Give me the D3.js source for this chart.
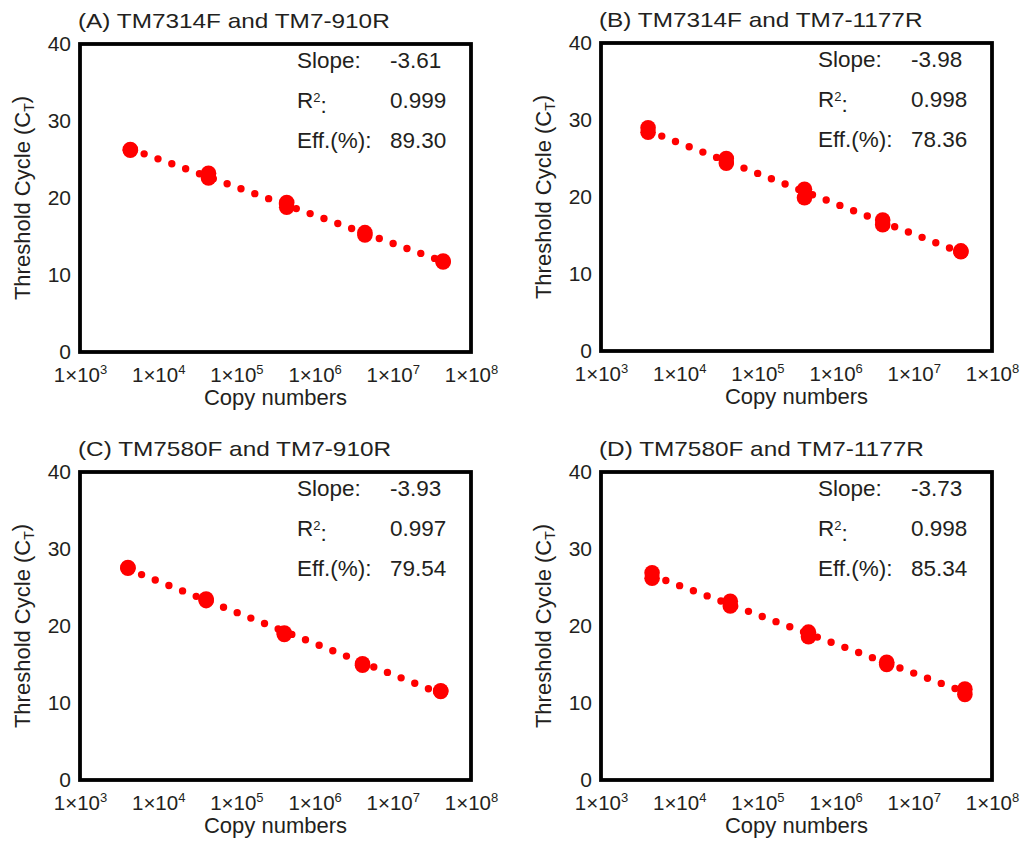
<!doctype html>
<html lang="en-US">
<head>
  <meta charset="utf-8">
  <title>qPCR standard curves</title>
  <script src="https://cdn.jsdelivr.net/npm/d3@7/dist/d3.min.js"></script>
  <style>
    html, body {
      margin: 0px;
      padding: 0px;
      background: #fff;
    }
    svg {
      display: block;
    }
    text {
      font-family: "Liberation Sans", Arial, sans-serif;
      fill: #231f20;
    }
  </style>
</head>
<body>
<svg id="chart" width="1024" height="841"></svg>

<script>
// panel titles and fit statistics printed in each box
var titles = ["(A) TM7314F and TM7-910R", "(B) TM7314F and TM7-1177R",
              "(C) TM7580F and TM7-910R", "(D) TM7580F and TM7-1177R"];
var slopes = ["-3.61", "-3.98", "-3.93", "-3.73"];
var r2s = ["0.999", "0.998", "0.997", "0.998"];
var effs = ["89.30", "78.36", "79.54", "85.34"];

// copy numbers of the dilution series
var copiesA = [4.4e3, 4.4e4, 4.4e5, 4.4e6, 4.4e7];
var copiesB = [4.0e3, 4.0e4, 4.0e5, 4.0e6, 4.0e7];
var copiesC = [4.1e3, 4.1e4, 4.1e5, 4.1e6, 4.1e7];
var copiesD = [4.5e3, 4.5e4, 4.5e5, 4.5e6, 4.5e7];

// threshold cycles, two replicates per dilution
var ctA = [[26.3, 26.2], [23.2, 22.6], [19.4, 18.8], [15.5, 15.2], [11.8, 11.7]];
var ctB = [[29.0, 28.4], [25.0, 24.4], [21.0, 19.9], [17.0, 16.4], [13.0, 12.9]];
var ctC = [[27.6, 27.5], [23.5, 23.3], [19.1, 18.9], [15.1, 14.9], [11.6, 11.5]];
var ctD = [[26.9, 26.2], [23.2, 22.6], [19.2, 18.6], [15.3, 15.0], [11.8, 11.1]];

var xTicks = [1e3, 1e4, 1e5, 1e6, 1e7, 1e8];
var yTicks = [0, 10, 20, 30, 40];

var copies = [copiesA, copiesB, copiesC, copiesD];
var cts = [ctA, ctB, ctC, ctD];
var origins = [[80, 44], [601, 43], [80, 472], [601, 472]];

var W = 391, H = 308;
var red = "#ff0000";

var svg = d3.select("#chart");
svg.append("rect").attr("width", 1024).attr("height", 841).attr("fill", "#fff");

function drawPanel(i) {
  var g = svg.append("g").attr("transform", "translate(" + origins[i][0] + "," + origins[i][1] + ")");
  var x = d3.scaleLog().domain([1e3, 1e8]).range([0, W]);
  var y = d3.scaleLinear().domain([0, 40]).range([H, 0]);

  // y axis
  var ya = g.append("g").call(d3.axisLeft(y).tickValues(yTicks).tickSize(0).tickPadding(9));
  ya.select(".domain").remove();
  ya.selectAll("text").style("font-size", "21px").style("font-family", null).attr("fill", "#231f20");

  // x axis with 1x10^n labels
  var xa = g.append("g").attr("transform", "translate(0," + H + ")")
    .call(d3.axisBottom(x).tickValues(xTicks).tickSize(0).tickPadding(15));
  xa.select(".domain").remove();
  xa.selectAll("text").style("font-size", "20.5px").style("font-family", null).attr("fill", "#231f20")
    .each(function(d) {
      var t = d3.select(this).text("1\u00d710");
      t.append("tspan").attr("dy", "-0.55em").style("font-size", "13px").text(Math.round(Math.log10(d)));
    });

  // frame
  g.append("rect").attr("width", W).attr("height", H)
    .attr("fill", "none").attr("stroke", "#000").attr("stroke-width", 3.8);

  // points flattened
  var pts = [];
  copies[i].forEach(function(c, k) {
    cts[i][k].forEach(function(v) { pts.push([c, v]); });
  });

  // least squares trend line on log10(copies)
  var mx = d3.mean(pts, function(p) { return Math.log10(p[0]); });
  var my = d3.mean(pts, function(p) { return p[1]; });
  var sxy = d3.sum(pts, function(p) { return (Math.log10(p[0]) - mx) * (p[1] - my); });
  var sxx = d3.sum(pts, function(p) { return Math.pow(Math.log10(p[0]) - mx, 2); });
  var b = sxy / sxx, a = my - b * mx;
  var ends = d3.extent(copies[i]);
  var line = d3.line()
    .x(function(c) { return x(c); })
    .y(function(c) { return y(a + b * Math.log10(c)); });
  g.append("path").datum(ends).attr("d", line)
    .attr("fill", "none").attr("stroke", red).attr("stroke-width", 7.4)
    .attr("stroke-linecap", "round").attr("stroke-dasharray", "0 14.7");

  g.selectAll("circle.pt").data(pts).enter().append("circle")
    .attr("class", "pt")
    .attr("cx", function(p) { return x(p[0]); })
    .attr("cy", function(p) { return y(p[1]); })
    .attr("r", 7.8).attr("fill", red);

  // title, a little wider than the font
  g.append("text").attr("transform", "translate(-2,-16) scale(1.16,1)")
    .style("font-size", "21px").text(titles[i]);

  // stats block
  var st = g.append("g").style("font-size", "22.5px");
  st.append("text").attr("x", 217).attr("y", 24).text("Slope:");
  st.append("text").attr("x", 310).attr("y", 24).text(slopes[i]);
  var r = st.append("text").attr("x", 217).attr("y", 64).text("R");
  r.append("tspan").attr("dy", "-0.5em").style("font-size", "13px").text("2");
  r.append("tspan").attr("dy", "0.5em").text(":");
  st.append("text").attr("x", 310).attr("y", 64).text(r2s[i]);
  st.append("text").attr("x", 217).attr("y", 104).text("Eff.(%):");
  st.append("text").attr("x", 310).attr("y", 104).text(effs[i]);

  // axis titles
  g.append("text").attr("x", W / 2).attr("y", H + 53).attr("text-anchor", "middle")
    .style("font-size", "22px").text("Copy numbers");
  var yl = g.append("text").attr("transform", "translate(-50," + (H / 2) + ") rotate(-90)")
    .attr("text-anchor", "middle").style("font-size", "22px").text("Threshold Cycle (C");
  yl.append("tspan").attr("dy", "0.3em").style("font-size", "14px").text("T");
  yl.append("tspan").attr("dy", "-0.3em").text(")");
}

for (var i = 0; i < 4; i++) drawPanel(i);
</script>
</body>
</html>
